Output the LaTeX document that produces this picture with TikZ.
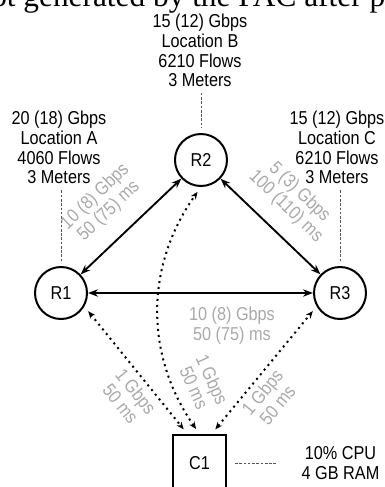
\documentclass[tikz,border=0pt]{standalone}
\usepackage{fontspec}
\setmainfont{Liberation Sans}[FakeStretch=0.87]
\newfontfamily\serifcap{Liberation Serif}
\usepackage{tikz}
\usetikzlibrary{arrows.meta}
\definecolor{linkgray}{HTML}{A9A9A9}
\definecolor{tagline}{HTML}{555555}
\newcommand{\labfont}{\fontsize{14}{14.8}\selectfont}

\begin{document}
\begin{tikzpicture}[x=0.75pt,y=-0.75pt,
  router/.style={draw,circle,line width=1.5pt,minimum size=39pt,inner sep=0pt,font=\labfont},
  ctrl/.style={draw,line width=1.5pt,minimum width=39.75pt,minimum height=42pt,inner sep=0pt,font=\labfont},
  info/.style={align=center,inner sep=0pt,font=\labfont},
  stat/.style={info,text=linkgray},
  link/.style={{Stealth[length=7.5pt,width=5.5pt]}-{Stealth[length=7.5pt,width=5.5pt]},line width=1.4pt},
  ctl/.style={{Stealth[length=5.5pt,width=4.5pt]}-{Stealth[length=5.5pt,width=4.5pt]},line width=1.5pt,dash pattern=on 1.5pt off 3pt,shorten <=4.5pt,shorten >=4.5pt},
  tag/.style={tagline,line width=0.6pt,dash pattern=on 2pt off 1.2pt}]
\useasboundingbox (0,0) rectangle (385,487);
\node[anchor=base west,inner sep=0pt,font=\serifcap\fontsize{23.5}{23.5}\selectfont] (cap) at (-9,6) {ot generated by the PAC after p};
% routers and controller
\node[router] (R1) at (61,293) {R1};
\node[router] (R2) at (201,160) {R2};
\node[router] (R3) at (340,293) {R3};
\node[ctrl] (C1) at (199.5,463) {C1};
% site data
\node[info,anchor=north] (locA) at (59,111) {20 (18) Gbps\\Location A\\4060 Flows\\3 Meters};
\node[info,anchor=north] (locB) at (200,14) {15 (12) Gbps\\Location B\\6210 Flows\\3 Meters};
\node[info,anchor=north] (locC) at (337,111) {15 (12) Gbps\\Location C\\6210 Flows\\3 Meters};
\node[info,anchor=north] (hw) at (340.5,446) {10\% CPU\\4 GB RAM};
\draw[tag,shorten <=4.5pt,shorten >=3.75pt] (locA.south -| R1) -- (R1.north);
\draw[tag,shorten <=4pt,shorten >=3.75pt] (locB.south -| R2) -- (R2.north);
\draw[tag,shorten <=4.5pt,shorten >=3.75pt] (locC.south -| R3) -- (R3.north);
\draw[tag,shorten <=6pt,shorten >=18pt] (C1.east) -- (hw.west |- C1.east);
% data links
\draw[link] (R1) -- node[stat,sloped,above=12.5pt,pos=0.46] {10 (8) Gbps\\50 (75) ms} (R2);
\draw[link] (R2) -- node[stat,sloped,above=11.5pt,pos=0.48] {5 (3) Gbps\\100 (110) ms} (R3);
\draw[link] (R1) -- node[stat,below=9.75pt,pos=0.64] {10 (8) Gbps\\50 (75) ms} (R3);
% control links
\draw[ctl] (R1.-30) -- node[stat,sloped,below=4pt,pos=0.6] {1 Gbps\\50 ms} ([xshift=-9]C1.north);
\draw[ctl] ([xshift=9]C1.north) -- node[stat,sloped,below=3.5pt,pos=0.39] {1 Gbps\\50 ms} (R3.210);
\draw[ctl] (C1.north) to[bend left=35] node[stat,sloped,above=8pt,pos=0.16] {1 Gbps\\50 ms} (R2.south);
\end{tikzpicture}
\end{document}
